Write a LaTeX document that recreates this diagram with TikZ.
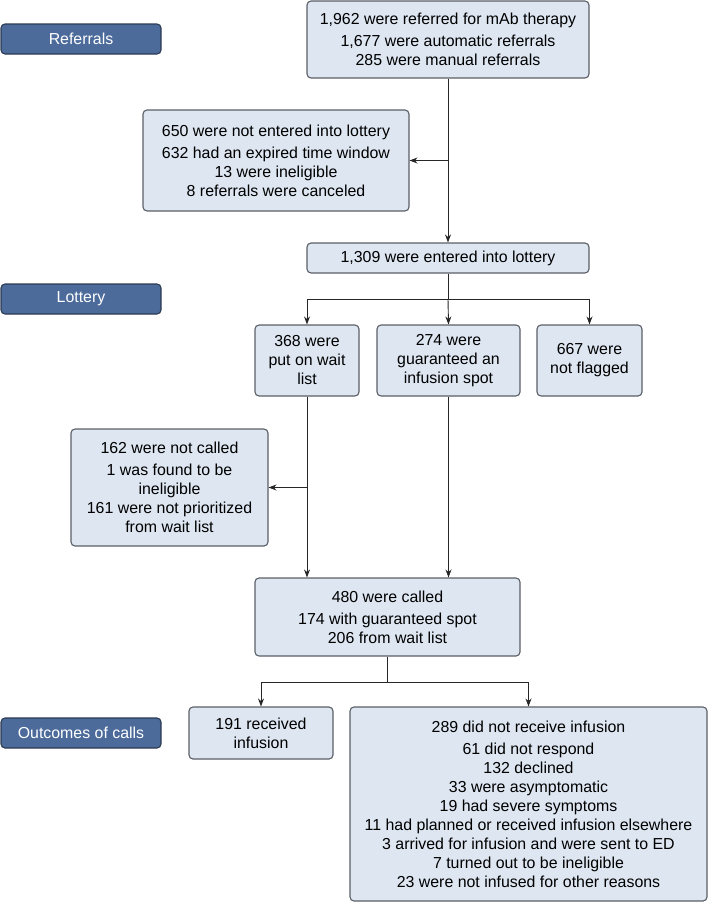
\documentclass[tikz,border=0pt]{standalone}
\usepackage{fontspec}
\setmainfont{Liberation Sans}
\usepackage{xcolor}
\usetikzlibrary{arrows.meta,positioning}

\definecolor{boxfill}{HTML}{DDE6F1}
\definecolor{boxline}{HTML}{5A5F66}
\definecolor{stagefill}{HTML}{4C6B9B}
\definecolor{stageline}{HTML}{2B3A52}

\tikzset{
  flowbox/.style={draw=boxline,line width=1.1pt,fill=boxfill,rounded corners=4pt,
    align=center,inner sep=0pt,font=\fontsize{15.9}{19}\selectfont},
  stagebox/.style={draw=stageline,line width=1.1pt,fill=stagefill,rounded corners=4pt,
    text=white,align=center,inner sep=0pt,minimum width=160pt,minimum height=30pt,
    font=\fontsize{15.9}{19}\selectfont},
  link/.style={line width=0.9pt,draw=black!85},
}

\begin{document}
\begin{tikzpicture}[x=1pt,y=-1pt,>={Stealth[length=8pt,width=6pt]}]
    \useasboundingbox (0,0) rectangle (708,902);

    % stage labels
    \node[stagebox] (referrals) at (81,39) {Referrals};
    \node[stagebox] (lottery) at (81,299) {Lottery};
    \node[stagebox] (outcomes) at (81,733) {Outcomes of calls};

    % referrals
    \node[flowbox,minimum width=282pt,minimum height=77pt] (referred) at (448,39.5)
        {1,962 were referred for mAb therapy\\[3pt] 1,677 were automatic referrals\\ 285 were manual referrals};
    \node[flowbox,minimum width=266pt,minimum height=101pt] (notentered) at (276,160.5)
        {650 were not entered into lottery\\[3pt] 632 had an expired time window\\ 13 were ineligible\\ 8 referrals were canceled};
    \node[flowbox,minimum width=282pt,minimum height=30pt] (entered) at (448,258)
        {1,309 were entered into lottery};

    % lottery
    \node[flowbox,minimum width=104pt,minimum height=71pt] (waitlist) at (307,360.5)
        {368 were\\ put on wait\\ list};
    \node[flowbox,minimum width=143pt,minimum height=71pt] (guaranteed) at (448.5,360.5)
        {274 were\\ guaranteed an\\ infusion spot};
    \node[flowbox,minimum width=105pt,minimum height=71pt] (notflagged) at (589.5,360.5)
        {667 were\\ not flagged};
    \node[flowbox,minimum width=197pt,minimum height=117pt] (notcalled) at (169.5,487.5)
        {162 were not called\\[3pt] 1 was found to be\\ ineligible\\ 161 were not prioritized\\ from wait list};
    \node[flowbox,minimum width=265pt,minimum height=78pt] (called) at (387.5,617)
        {480 were called\\[3pt] 174 with guaranteed spot\\ 206 from wait list};

    % outcomes of calls
    \node[flowbox,minimum width=144pt,minimum height=52pt] (received) at (261,733)
        {191 received\\ infusion};
    \node[flowbox,minimum width=357pt,minimum height=194pt] (notreceived) at (528.5,804)
        {289 did not receive infusion\\[3pt] 61 did not respond\\ 132 declined\\ 33 were asymptomatic\\
         19 had severe symptoms\\ 11 had planned or received infusion elsewhere\\
         3 arrived for infusion and were sent to ED\\ 7 turned out to be ineligible\\
         23 were not infused for other reasons};

    \coordinate (lotsplit) at (448,299);
    \coordinate (callsplit) at (387.5,682);

    \draw[link,->] (referred.south) -- (entered.north);
    \draw[link,->] (referred.south |- notentered.east) -- (notentered.east);
    \draw[link] (entered.south) -- (lotsplit);
    \draw[link,->] (lotsplit) -| (waitlist.north);
    \draw[link,->] (lotsplit) -- (guaranteed.north);
    \draw[link,->] (lotsplit) -| (notflagged.north);
    \draw[link,->] (waitlist.south) -- (waitlist.south |- called.north);
    \draw[link,->] (waitlist.south |- notcalled.east) -- (notcalled.east);
    \draw[link,->] (guaranteed.south) -- (guaranteed.south |- called.north);
    \draw[link] (called.south) -- (callsplit);
    \draw[link,->] (callsplit) -| (received.north);
    \draw[link,->] (callsplit) -| (notreceived.north);
\end{tikzpicture}
\end{document}
